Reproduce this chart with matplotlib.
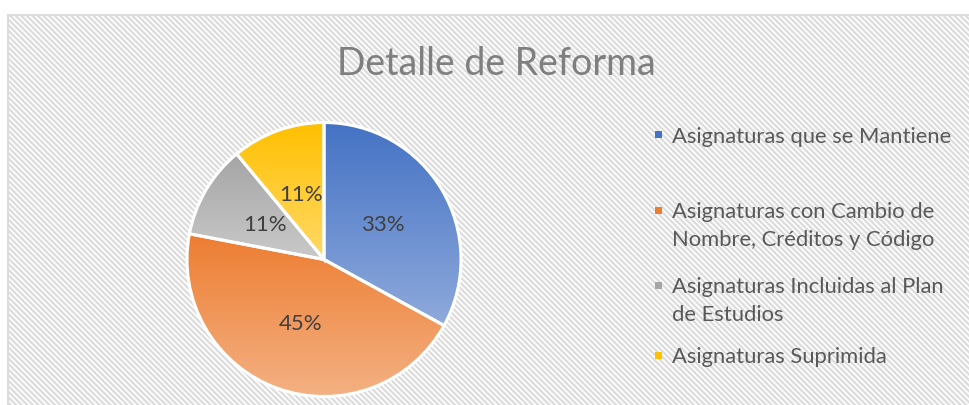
import numpy as np
import matplotlib
matplotlib.use("Agg")
import matplotlib.pyplot as plt
from matplotlib.patches import Rectangle
from matplotlib.colors import LinearSegmentedColormap

# Slice data
labels = [
    "Asignaturas que se Mantiene",
    "Asignaturas con Cambio de\nNombre, Créditos y Código",
    "Asignaturas Incluidas al Plan\nde Estudios",
    "Asignaturas Suprimida",
]
shares = [33, 45, 11, 11]
pct_labels = ["33%", "45%", "11%", "11%"]

# top / bottom colours of each slice gradient
top_colors = ["#4472C4", "#ED7D31", "#A5A5A5", "#FFC000"]
bottom_colors = ["#8FAADC", "#F4B183", "#C9C9C9", "#FFD966"]

W, H = 970, 405
fig = plt.figure(figsize=(W / 100, H / 100), dpi=100)
fig.patch.set_facecolor("white")

plt.rcParams["hatch.linewidth"] = 1.6
plt.rcParams["font.family"] = ["Lato", "DejaVu Sans"]

# chart area: white with light diagonal stripes
bg = Rectangle((8 / W, -0.1), 1.2, (1 - 15 / H) + 0.1, transform=fig.transFigure,
               facecolor="white", edgecolor="#DCDCDC", linewidth=1.5,
               hatch="\\" * 6, zorder=-5)
fig.patches.append(bg)

# pie axes
cx, cy, r = 324, H - 259.5, 137
ax = fig.add_axes([(cx - r) / W, (cy - r) / H, 2 * r / W, 2 * r / H], zorder=2)
ax.set_facecolor("none")

wedges, _ = ax.pie(shares, startangle=90, counterclock=False, radius=1,
                   wedgeprops=dict(edgecolor="white", linewidth=2.2))

# vertical gradient fill for each slice (dark at the top)
grad = np.linspace(0, 1, 256).reshape(-1, 1)
for w, c0, c1 in zip(wedges, top_colors, bottom_colors):
    ext = w.get_path().get_extents()
    cmap = LinearSegmentedColormap.from_list("g", [c0, c1])
    im = ax.imshow(grad, cmap=cmap, aspect="auto", origin="upper",
                   extent=[ext.x0, ext.x1, ext.y0, ext.y1], zorder=1,
                   interpolation="bilinear")
    im.set_clip_path(w)
    w.set_facecolor("none")
    w.set_zorder(2)

# percentage labels placed at the middle of each slice
theta = 90.0
for s, txt in zip(shares, pct_labels):
    span = s / sum(shares) * 360
    mid = np.deg2rad(theta - span / 2)
    ax.text(0.5 * np.cos(mid), 0.5 * np.sin(mid), txt, ha="center", va="center",
            fontsize=16, color="#404040", zorder=3)
    theta -= span

ax.set_xlim(-1, 1)
ax.set_ylim(-1, 1)
ax.set_axis_off()

fig.text(496 / W, 1 - 64 / H, "Detalle de Reforma", ha="center", va="center",
         fontsize=27, color="#7F7F7F")

# legend entries, first line of each label
leg_y = [135, 210, 285, 355]
for lab, col, y in zip(labels, top_colors, leg_y):
    fig.patches.append(Rectangle(((658 - 3.5) / W, 1 - (y + 3.5) / H), 7 / W, 7 / H,
                                 transform=fig.transFigure, facecolor=col,
                                 edgecolor="none", zorder=3))
    fig.text(672 / W, 1 - (y - 8) / H, lab, ha="left", va="top", fontsize=15.8,
             color="#595959", linespacing=1.5)

fig.savefig("out.png", dpi=100, facecolor="white")
